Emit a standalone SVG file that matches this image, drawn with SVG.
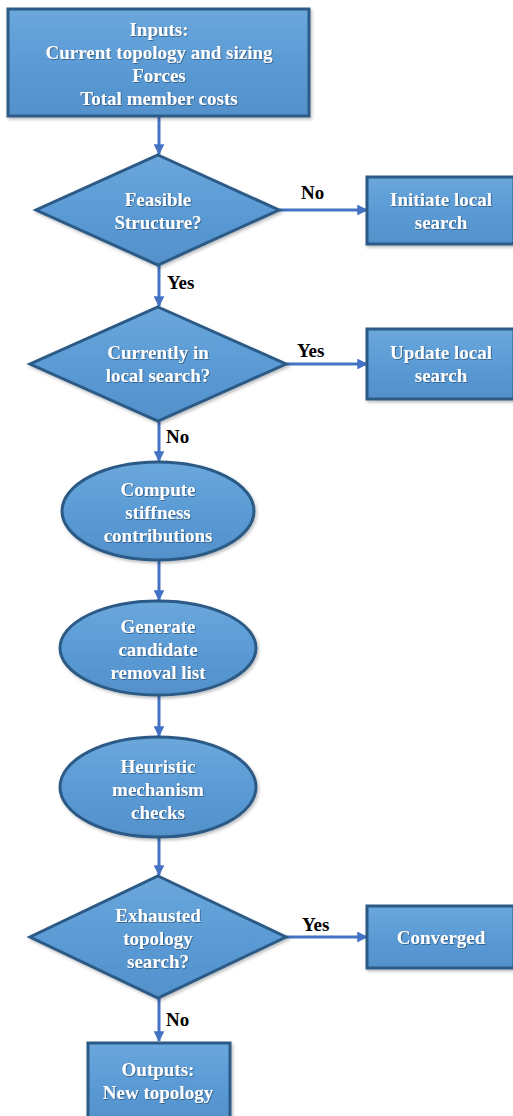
<svg xmlns="http://www.w3.org/2000/svg" width="513" height="1116" viewBox="0 0 513 1116">
<defs>
<linearGradient id="g" x1="0" y1="0" x2="0" y2="1">
<stop offset="0" stop-color="#6aa7dc"/>
<stop offset="0.5" stop-color="#5b9bd5"/>
<stop offset="1" stop-color="#5391cb"/>
</linearGradient>
<filter id="ts" x="-10%" y="-20%" width="120%" height="150%">
<feDropShadow dx="0.8" dy="0.8" stdDeviation="0.6" flood-color="#1f3d5c" flood-opacity="0.7"/>
</filter>
<filter id="sh" x="-10%" y="-10%" width="125%" height="130%">
<feDropShadow dx="1.5" dy="2" stdDeviation="1.5" flood-color="#000" flood-opacity="0.25"/>
</filter>
<marker id="ah" viewBox="0 0 10 10" refX="9" refY="5" markerWidth="3.6" markerHeight="3.6" orient="auto" markerUnits="strokeWidth">
<path d="M0,0 L10,5 L0,10 z" fill="#4472c4"/>
</marker>
</defs>
<style>
.shape{fill:url(#g);stroke:#2c5a85;stroke-width:3;filter:url(#sh)}
.t{font-family:"Liberation Serif","Times New Roman",serif;font-weight:bold;font-size:19px;fill:#ffffff;text-anchor:middle;filter:url(#ts)}
.lbl{font-family:"Liberation Serif","Times New Roman",serif;font-weight:bold;font-size:19px;fill:#000000}
.c{stroke:#4472c4;stroke-width:3;fill:none;marker-end:url(#ah)}
</style>
<rect width="513" height="1116" fill="#ffffff"/>
<g id="connectors">
<line class="c" x1="159" y1="117" x2="159" y2="154"/>
<line class="c" x1="279" y1="210" x2="367" y2="210"/>
<line class="c" x1="159" y1="265" x2="159" y2="306"/>
<line class="c" x1="286" y1="364" x2="367" y2="364"/>
<line class="c" x1="159" y1="421" x2="159" y2="461"/>
<line class="c" x1="159" y1="560" x2="159" y2="600"/>
<line class="c" x1="159" y1="695" x2="159" y2="736"/>
<line class="c" x1="159" y1="837" x2="159" y2="875"/>
<line class="c" x1="286" y1="937" x2="367" y2="937"/>
<line class="c" x1="159" y1="998" x2="159" y2="1041"/>
<text class="lbl" x="301" y="199">No</text>
<text class="lbl" x="167" y="289">Yes</text>
<text class="lbl" x="297" y="357">Yes</text>
<text class="lbl" x="166" y="443">No</text>
<text class="lbl" x="302" y="931">Yes</text>
<text class="lbl" x="166" y="1026">No</text>
</g>
<g id="inputs">
<rect class="shape" x="8" y="9" width="301" height="107"/>
<text class="t" x="159" y="36">Inputs:</text>
<text class="t" x="159" y="59">Current topology and sizing</text>
<text class="t" x="159" y="82">Forces</text>
<text class="t" x="159" y="105">Total member costs</text>
</g>
<g id="feasible">
<polygon class="shape" points="158,155 279,210 158,265 36,210"/>
<text class="t" x="158" y="206">Feasible</text>
<text class="t" x="158" y="229">Structure?</text>
</g>
<g id="initiate">
<rect class="shape" x="367" y="177" width="147" height="67"/>
<text class="t" x="441" y="206">Initiate local</text>
<text class="t" x="441" y="229">search</text>
</g>
<g id="currently">
<polygon class="shape" points="158,307 286,364 158,421 30,364"/>
<text class="t" x="158" y="359">Currently in</text>
<text class="t" x="158" y="382">local search?</text>
</g>
<g id="update">
<rect class="shape" x="367" y="329" width="147" height="70"/>
<text class="t" x="441" y="359">Update local</text>
<text class="t" x="441" y="382">search</text>
</g>
<g id="compute">
<ellipse class="shape" cx="158" cy="511" rx="96" ry="49"/>
<text class="t" x="158" y="496">Compute</text>
<text class="t" x="158" y="519">stiffness</text>
<text class="t" x="158" y="542">contributions</text>
</g>
<g id="generate">
<ellipse class="shape" cx="158" cy="648" rx="98" ry="47"/>
<text class="t" x="158" y="633">Generate</text>
<text class="t" x="158" y="656">candidate</text>
<text class="t" x="158" y="679">removal list</text>
</g>
<g id="heuristic">
<ellipse class="shape" cx="158" cy="787" rx="98" ry="50"/>
<text class="t" x="158" y="773">Heuristic</text>
<text class="t" x="158" y="796">mechanism</text>
<text class="t" x="158" y="819">checks</text>
</g>
<g id="exhausted">
<polygon class="shape" points="158,876 286,937 158,998 30,937"/>
<text class="t" x="158" y="922">Exhausted</text>
<text class="t" x="158" y="945">topology</text>
<text class="t" x="158" y="968">search?</text>
</g>
<g id="converged">
<rect class="shape" x="367" y="906" width="147" height="62"/>
<text class="t" x="441" y="944">Converged</text>
</g>
<g id="outputs">
<rect class="shape" x="88" y="1043" width="142" height="80"/>
<text class="t" x="158" y="1076">Outputs:</text>
<text class="t" x="158" y="1099">New topology</text>
</g>
</svg>
